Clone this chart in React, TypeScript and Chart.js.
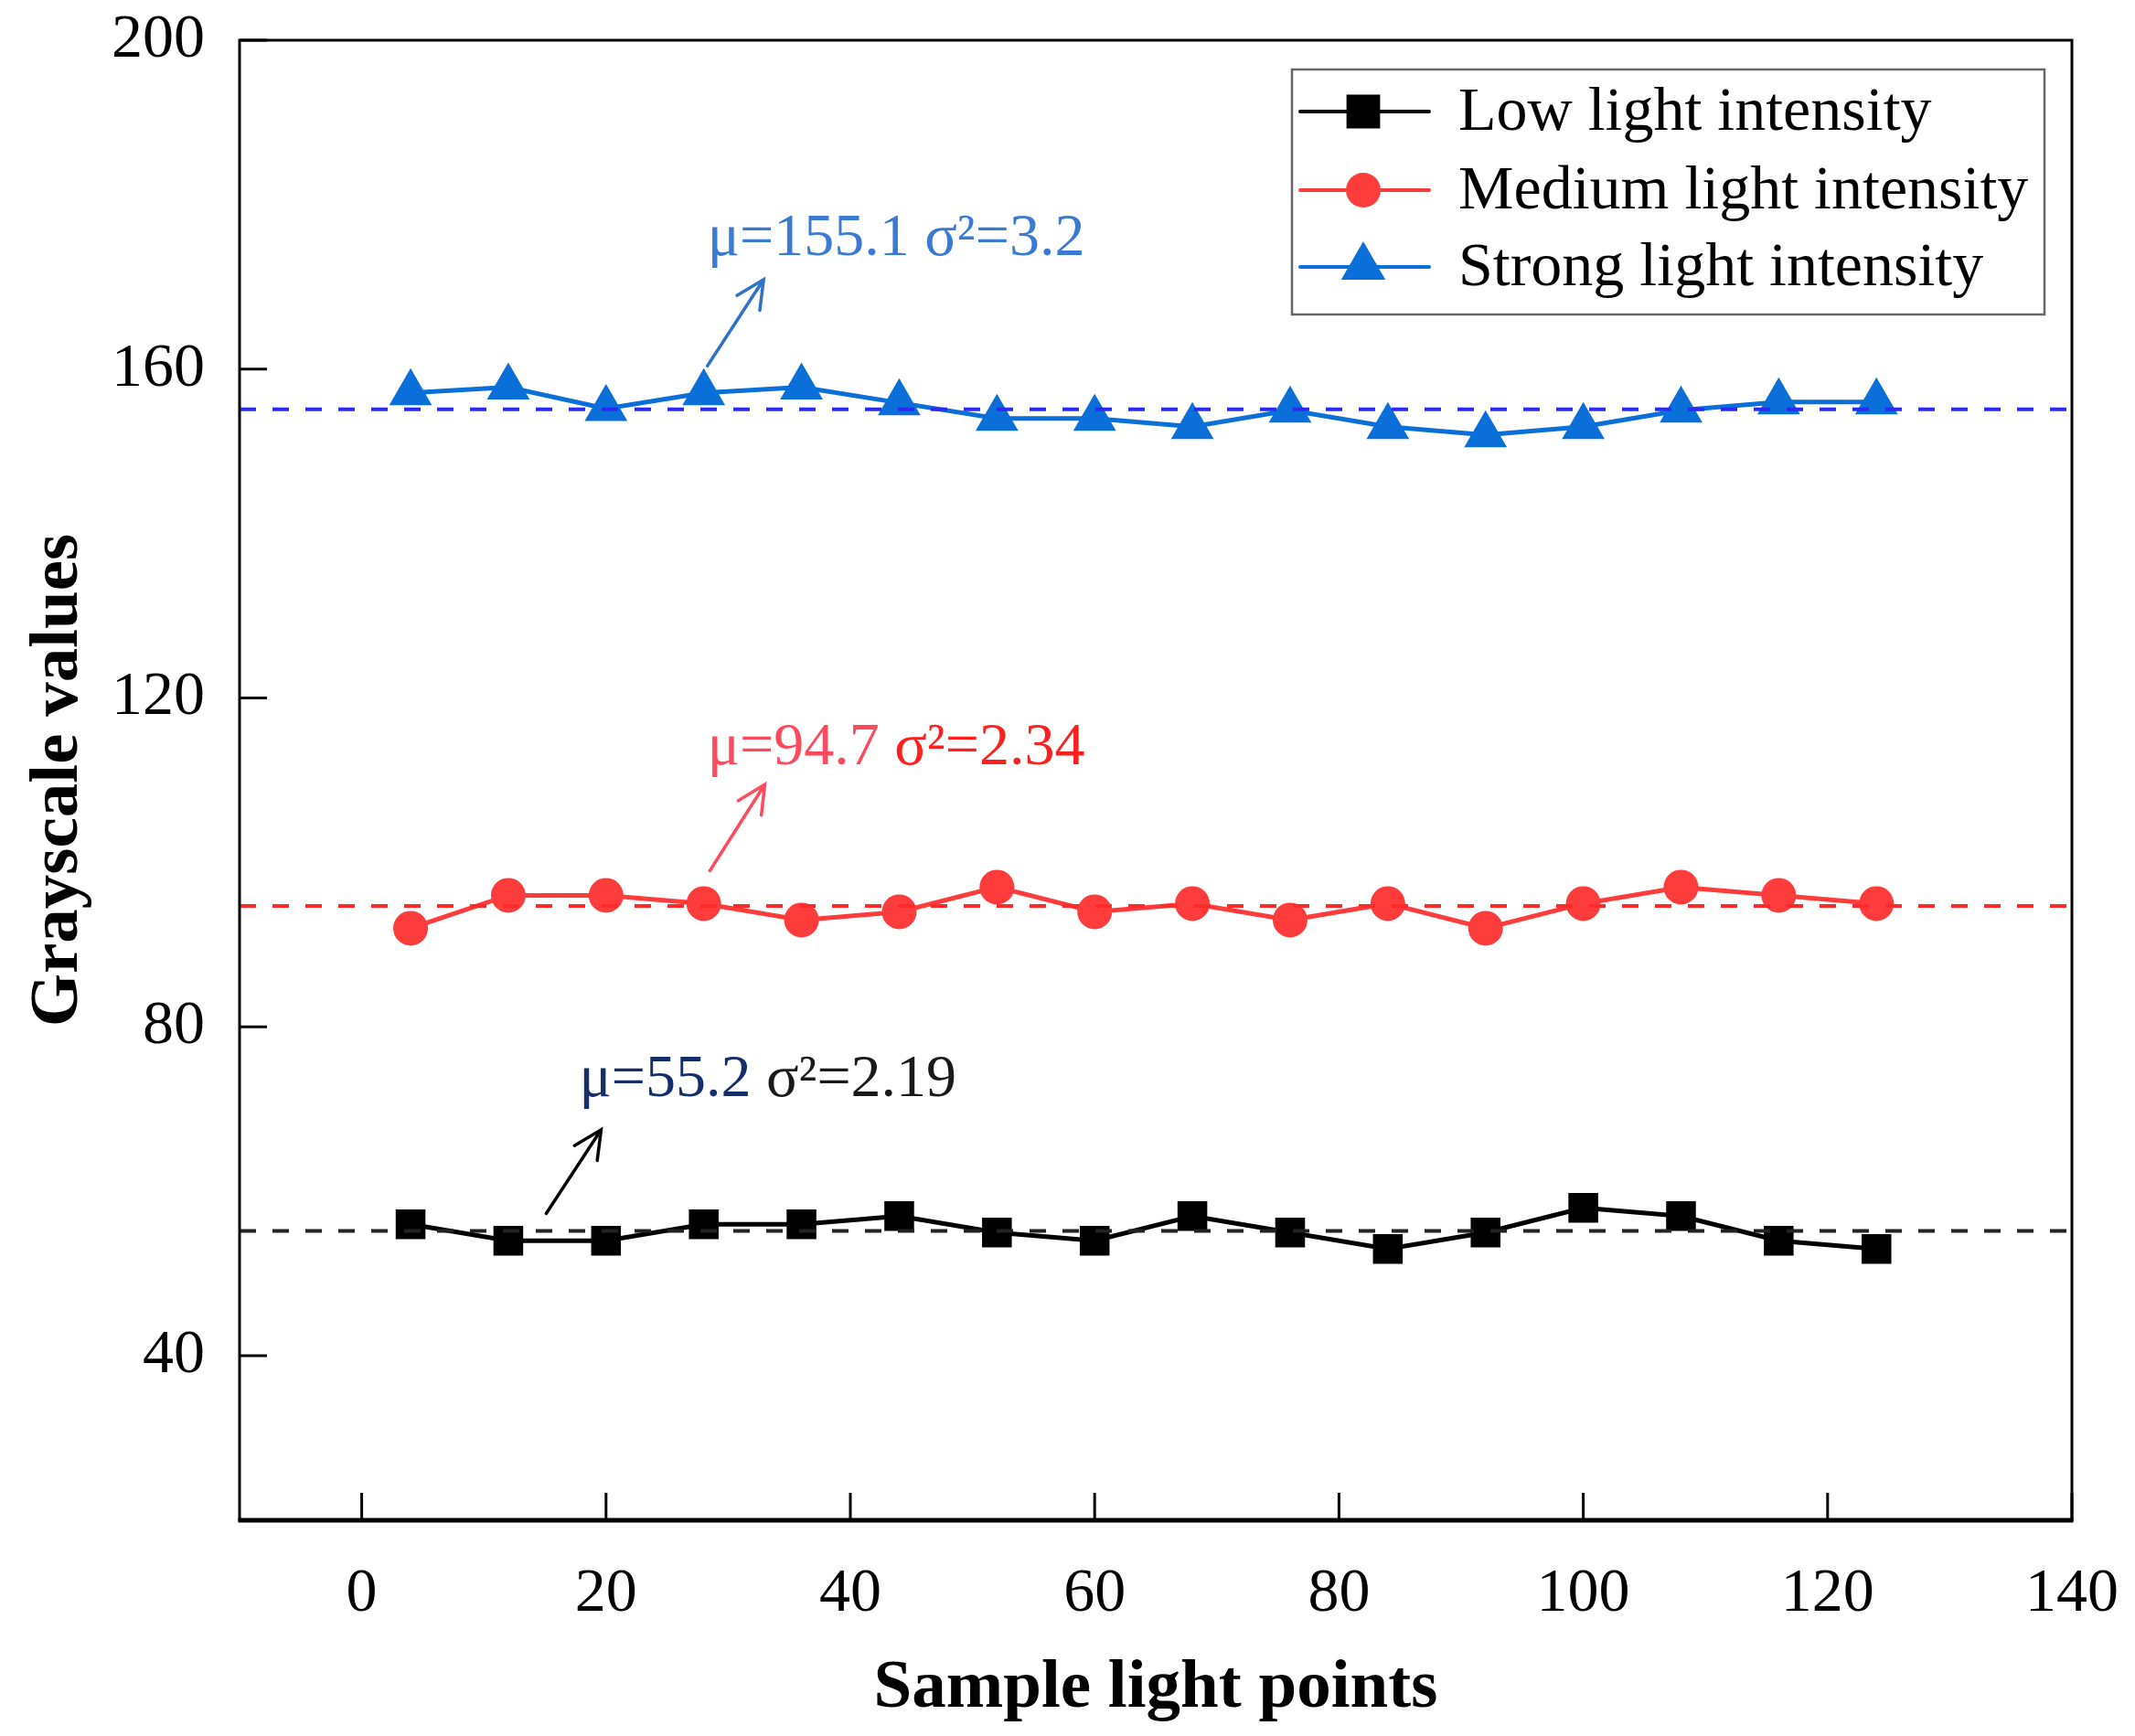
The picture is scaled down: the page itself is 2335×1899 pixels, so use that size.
import React, { useEffect, useRef } from "react";
import { Chart, registerables } from "chart.js";

Chart.register(...registerables);

// ---------- data ----------
const X_MIN = -10;
const X_MAX = 140;
const Y_MIN = 20;
const Y_MAX = 200;
const xTickValues = [0, 20, 40, 60, 80, 100, 120, 140];
const yTickValues = [40, 80, 120, 160, 200];

const sampleX = [4, 12, 20, 28, 36, 44, 52, 60, 68, 76, 84, 92, 100, 108, 116, 124];
const lowValues = [56, 54, 54, 56, 56, 57, 55, 54, 57, 55, 53, 55, 58, 57, 54, 53];
const mediumValues = [92, 96, 96, 95, 93, 94, 97, 94, 95, 93, 95, 92, 95, 97, 96, 95];
const strongValues = [157.1, 157.8, 155.2, 157.1, 157.8, 155.9, 154, 154, 153, 155, 153, 152, 153, 155, 156, 156];

const seriesLabels = ["Low light intensity", "Medium light intensity", "Strong light intensity"];
const meanValues = [55.2, 94.7, 155.1];

const annoMu = ["μ=55.2", "μ=94.7", "μ=155.1"];
const annoSigma = [" σ²=2.19", " σ²=2.34", " σ²=3.2"];
const annoTextX = [17.8, 28.3, 28.3];
const annoTextY = [71.6, 111.9, 173.9];
const arrowFromX = [15.1, 28.5, 28.3];
const arrowFromY = [57.3, 99.0, 160.4];
const arrowToX = [19.6, 33.0, 32.9];
const arrowToY = [67.5, 109.5, 170.9];

// ---------- styles ----------
const SERIF = '"Liberation Serif", "Times New Roman", serif';
const lineColors = ["#000000", "#ff3c3c", "#0a6fd8"];
const meanColors = ["#222222", "#ff2a2a", "#2a2af0"];
const muColors = ["#142e6b", "#ff4a5e", "#3a7ad2"];
const sigmaColors = ["#1a1a1a", "#ff1f1f", "#3a7ad2"];
const arrowColors = ["#000000", "#ff4a5e", "#2f72c8"];
const pointStyles = ["rect", "circle", "triangle"];
const pointRadii = [23, 19, 27];

function drawMarker(ctx: CanvasRenderingContext2D, style: string, x: number, y: number, r: number, color: string) {
  ctx.save();
  ctx.fillStyle = color;
  ctx.beginPath();
  if (style === "rect") {
    const s = Math.SQRT1_2 * r;
    ctx.rect(x - s, y - s, 2 * s, 2 * s);
  } else if (style === "circle") {
    ctx.arc(x, y, r, 0, Math.PI * 2);
  } else {
    let a = 0;
    ctx.moveTo(x + Math.sin(a) * r, y - Math.cos(a) * r);
    a += (2 * Math.PI) / 3;
    ctx.lineTo(x + Math.sin(a) * r, y - Math.cos(a) * r);
    a += (2 * Math.PI) / 3;
    ctx.lineTo(x + Math.sin(a) * r, y - Math.cos(a) * r);
    ctx.closePath();
  }
  ctx.fill();
  ctx.restore();
}

function zeroPadding(s: any) {
  s.paddingTop = 0;
  s.paddingBottom = 0;
  s.paddingLeft = 0;
  s.paddingRight = 0;
}

const decorPlugin = {
  id: "decor",
  afterDraw(chart: any) {
    const ctx: CanvasRenderingContext2D = chart.ctx;
    const area = chart.chartArea;
    const xs = chart.scales.x;
    const ys = chart.scales.y;
    ctx.save();

    // frame
    ctx.strokeStyle = "#000";
    ctx.lineWidth = 3;
    ctx.strokeRect(area.left, area.top, area.right - area.left, area.bottom - area.top);
    ctx.lineWidth = 5;
    ctx.beginPath();
    ctx.moveTo(area.left - 1.5, area.bottom);
    ctx.lineTo(area.right + 1.5, area.bottom);
    ctx.stroke();

    // inward ticks
    ctx.lineWidth = 3;
    ctx.beginPath();
    for (const v of yTickValues) {
      const py = ys.getPixelForValue(v);
      ctx.moveTo(area.left, py);
      ctx.lineTo(area.left + 30, py);
    }
    for (const v of xTickValues) {
      const px = xs.getPixelForValue(v);
      ctx.moveTo(px, area.bottom);
      ctx.lineTo(px, area.bottom - 30);
    }
    ctx.stroke();

    // annotations with arrows
    for (let i = 0; i < annoMu.length; i++) {
      const fx = xs.getPixelForValue(arrowFromX[i]);
      const fy = ys.getPixelForValue(arrowFromY[i]);
      const tx = xs.getPixelForValue(arrowToX[i]);
      const ty = ys.getPixelForValue(arrowToY[i]);
      ctx.strokeStyle = arrowColors[i];
      ctx.lineWidth = 3.5;
      ctx.lineCap = "round";
      ctx.beginPath();
      ctx.moveTo(fx, fy);
      ctx.lineTo(tx, ty);
      const ang = Math.atan2(ty - fy, tx - fx);
      const len = 34;
      const spread = (26 * Math.PI) / 180;
      ctx.moveTo(tx - len * Math.cos(ang - spread), ty - len * Math.sin(ang - spread));
      ctx.lineTo(tx, ty);
      ctx.lineTo(tx - len * Math.cos(ang + spread), ty - len * Math.sin(ang + spread));
      ctx.stroke();

      const px = xs.getPixelForValue(annoTextX[i]);
      const py = ys.getPixelForValue(annoTextY[i]);
      ctx.font = `66px ${SERIF}`;
      ctx.textBaseline = "alphabetic";
      ctx.textAlign = "left";
      ctx.fillStyle = muColors[i];
      ctx.fillText(annoMu[i], px, py);
      const w = ctx.measureText(annoMu[i]).width;
      ctx.fillStyle = sigmaColors[i];
      ctx.fillText(annoSigma[i], px + w, py);
    }

    // legend
    const boxW = 823;
    const boxH = 268;
    const bx = area.right - 30 - boxW;
    const by = area.top + 32;
    ctx.fillStyle = "#fff";
    ctx.fillRect(bx, by, boxW, boxH);
    ctx.strokeStyle = "#666";
    ctx.lineWidth = 2.5;
    ctx.strokeRect(bx, by, boxW, boxH);
    const rowOffsets = [46, 132, 216];
    const legendR = [26, 19, 28];
    for (let i = 0; i < seriesLabels.length; i++) {
      const ry = by + rowOffsets[i];
      ctx.strokeStyle = lineColors[i];
      ctx.lineWidth = 4;
      ctx.beginPath();
      ctx.moveTo(bx + 9, ry);
      ctx.lineTo(bx + 150, ry);
      ctx.stroke();
      drawMarker(ctx, pointStyles[i], bx + 78, ry, legendR[i], lineColors[i]);
      ctx.fillStyle = "#000";
      ctx.font = `68px ${SERIF}`;
      ctx.textBaseline = "middle";
      ctx.textAlign = "left";
      ctx.fillText(seriesLabels[i], bx + 182, ry + 2);
    }
    ctx.restore();
  },
};

export default function App() {
  const ref = useRef<HTMLCanvasElement | null>(null);

  useEffect(() => {
    document.body.style.margin = "0";
    const canvas = ref.current;
    if (!canvas) return;

    const seriesValues = [lowValues, mediumValues, strongValues];

    const meanSets = meanValues.map((m, i) => ({
      label: "mean" + i,
      data: [
        { x: X_MIN, y: m },
        { x: X_MAX, y: m },
      ],
      borderColor: meanColors[i],
      borderWidth: 4,
      borderDash: [18, 18],
      pointRadius: 0,
      fill: false,
      order: 0,
    }));

    const seriesSets = seriesValues.map((vals, i) => ({
      label: seriesLabels[i],
      data: sampleX.map((x, j) => ({ x, y: vals[j] })),
      borderColor: lineColors[i],
      backgroundColor: lineColors[i],
      borderWidth: 5,
      pointStyle: pointStyles[i],
      pointRadius: pointRadii[i],
      pointBackgroundColor: lineColors[i],
      pointBorderColor: lineColors[i],
      pointBorderWidth: 0,
      tension: 0,
      fill: false,
      order: 1,
    }));

    const chart = new Chart(canvas, {
      type: "line",
      data: { datasets: [...meanSets, ...seriesSets] as any },
      options: {
        responsive: false,
        animation: false,
        devicePixelRatio: 1,
        events: [],
        layout: { padding: { left: 0, top: 44, right: 69, bottom: 0 } },
        plugins: {
          legend: { display: false },
          tooltip: { enabled: false },
          title: { display: false },
        },
        scales: {
          x: {
            type: "linear",
            min: X_MIN,
            max: X_MAX,
            afterBuildTicks: (s: any) => {
              s.ticks = xTickValues.map((v) => ({ value: v }));
            },
            afterFit: (s: any) => {
              s.height = 236;
              zeroPadding(s);
            },
            grid: { display: false, drawTicks: false },
            border: { display: false },
            ticks: {
              font: { family: SERIF, size: 68 },
              color: "#000",
              padding: 40,
              maxRotation: 0,
              autoSkip: false,
            },
            title: {
              display: true,
              text: "Sample light points",
              font: { family: SERIF, size: 75, weight: "bold" },
              color: "#000",
              padding: { top: 0, bottom: 6 },
            },
          },
          y: {
            type: "linear",
            min: Y_MIN,
            max: Y_MAX,
            afterBuildTicks: (s: any) => {
              s.ticks = yTickValues.map((v) => ({ value: v }));
            },
            afterFit: (s: any) => {
              s.width = 262;
              zeroPadding(s);
            },
            grid: { display: false, drawTicks: false },
            border: { display: false },
            ticks: {
              font: { family: SERIF, size: 68 },
              color: "#000",
              padding: 38,
              autoSkip: false,
            },
            title: {
              display: true,
              text: "Grayscale values",
              font: { family: SERIF, size: 75, weight: "bold" },
              color: "#000",
              padding: { top: 20, bottom: 0 },
            },
          },
        },
      } as any,
      plugins: [decorPlugin],
    });

    return () => {
      chart.destroy();
    };
  }, []);

  return (
    <canvas
      ref={ref}
      width={2335}
      height={1899}
      style={{ display: "block", width: "2335px", height: "1899px" }}
    />
  );
}
